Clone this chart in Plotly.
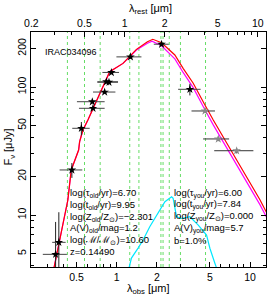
import plotly.graph_objects as go

z = 0.1449

# photometry (observed wavelength in micron, flux in microJy)
obs_lam = [0.348, 0.368, 0.461, 0.543, 0.656, 0.664, 0.812, 0.837, 0.875, 0.912, 1.268, 2.17, 3.54]
obs_flux = [4.93, 6.12, 22.5, 47.6, 76.8, 68.2, 91.4, 110, 109, 130, 172, 216, 96]
lam_lo = [0.279, 0.328, 0.373, 0.464, 0.503, 0.521, 0.664, 0.716, 0.716, 0.781, 0.995, 1.898, 2.89]
lam_hi = [0.423, 0.414, 0.552, 0.627, 0.812, 0.812, 0.978, 1.023, 1.023, 1.041, 1.533, 2.459, 4.26]
flux_err = [3.9, 4.4, 3.0, 5.7, 2.0, 2.0, 2.5, 3.0, 3.0, 3.5, 4.0, 5.0, 10.0]

irac_lam = [4.59, 5.78, 7.94]
irac_flux = [65, 39.3, 31.8]
irac_lo = [3.64, 4.45, 5.39]
irac_hi = [5.46, 6.97, 10.6]
irac_err = [2.0, 1.5, 1.5]

# total model (red)
tot_lam = [0.336, 0.430, 0.456, 0.518, 0.527, 0.558, 0.608, 0.657, 0.745, 0.886, 1.115, 1.406, 1.70, 1.865,
           2.17, 2.73, 3.15, 3.75, 4.59, 5.30, 11.9, 13.35]
tot_flux = [3.72, 13.1, 22.5, 32.2, 37.4, 46.1, 55.2, 66.1, 86.6, 131.7, 153, 197, 226, 236,
            222, 178, 140, 107, 72.3, 55.2, 13.1, 10.4]

# old population (magenta)
old_lam = [0.336, 0.430, 0.456, 0.518, 0.527, 0.558, 0.608, 0.657, 0.745, 0.886, 1.115, 1.406, 1.70, 1.84,
           2.17, 2.73, 3.15, 3.75, 4.59, 5.30, 11.9, 13.35]
old_flux = [3.72, 13.1, 22.5, 32.2, 37.4, 46.1, 55.2, 66.1, 86.6, 131.7, 153, 194.5, 220, 228,
            210, 166, 130, 99, 66.5, 50.6, 12.0, 9.55]

# young population (cyan)
young_lam = [1.20, 1.290, 1.446, 1.577, 1.77, 2.044, 2.30, 2.58, 2.65, 2.81, 3.07, 3.54, 4.09, 4.72, 5.0, 5.45, 5.75]
young_flux = [3.4, 4.61, 5.52, 6.38, 8.1, 10.3, 12.7, 13.9, 13.5, 9.7, 9.4, 9.7, 8.35, 6.98, 5.5, 4.2, 3.59]

# emission line rest wavelengths (micron)
line_rest = [0.3727, 0.5007, 0.6563, 1.094, 1.282, 1.875, 1.945, 2.166, 2.626, 4.051]

labels_old = ["log(τ<sub>old</sub>/yr)=6.70", "log(t<sub>old</sub>/yr)=9.95",
              "log(Z<sub>old</sub>/Z<sub>⊙</sub>)=−2.301", "A(V)<sub>old</sub>/mag=1.2",
              "log(ℳ/ℳ<sub>⊙</sub>)=10.60", "z=0.14490"]
labels_young = ["log(τ<sub>you</sub>/yr)=6.00", "log(t<sub>you</sub>/yr)=7.84",
                "log(Z<sub>you</sub>/Z<sub>⊙</sub>)=0.000", "A(V)<sub>you</sub>/mag=5.7", "b=1.0%"]

x_ticks = [0.5, 1, 2, 5, 10]
x_minor = [0.3, 0.4, 0.6, 0.7, 0.8, 0.9, 3, 4, 6, 7, 8, 9]
top_ticks = [0.2, 0.5, 1, 2, 5, 10]
top_minor = [0.3, 0.4, 0.6, 0.7, 0.8, 0.9, 3, 4, 6, 7, 8, 9]
y_ticks = [5, 10, 20, 50, 100, 200]
y_minor = [4, 6, 7, 8, 9, 30, 40, 60, 70, 80, 90]

FONT = "Liberation Sans, Arial, sans-serif"

fig = go.Figure()

fig.add_trace(go.Scatter(x=old_lam, y=old_flux, mode="lines", line=dict(color="#ff00ff", width=1.2),
                         showlegend=False))
fig.add_trace(go.Scatter(x=tot_lam, y=tot_flux, mode="lines", line=dict(color="#ff0000", width=1.2),
                         showlegend=False))
fig.add_trace(go.Scatter(x=young_lam, y=young_flux, mode="lines", line=dict(color="#00e8ff", width=1.2),
                         showlegend=False))

fig.add_trace(go.Scatter(
    x=obs_lam, y=obs_flux, mode="markers",
    marker=dict(symbol="star", size=6.5, color="black"),
    error_x=dict(type="data", symmetric=False,
                 array=[h - l for h, l in zip(lam_hi, obs_lam)],
                 arrayminus=[l - lo for l, lo in zip(obs_lam, lam_lo)],
                 color="#444444", thickness=1, width=0),
    error_y=dict(type="data", array=flux_err, color="#222222", thickness=1, width=0),
    showlegend=False))

fig.add_trace(go.Scatter(
    x=irac_lam, y=irac_flux, mode="markers",
    marker=dict(symbol="star", size=6.5, color="#888888"),
    error_x=dict(type="data", symmetric=False,
                 array=[h - l for h, l in zip(irac_hi, irac_lam)],
                 arrayminus=[l - lo for l, lo in zip(irac_lam, irac_lo)],
                 color="#333333", thickness=1, width=0),
    error_y=dict(type="data", array=irac_err, color="#333333", thickness=1, width=0),
    showlegend=False))

# invisible trace to activate top axis
fig.add_trace(go.Scatter(x=[1], y=[10], xaxis="x2", mode="markers", marker=dict(opacity=0),
                         showlegend=False, hoverinfo="skip"))

for lr in line_rest:
    fig.add_shape(type="line", xref="x", yref="paper", x0=lr * (1 + z), x1=lr * (1 + z), y0=0, y1=1,
                  line=dict(color="#66dd66", width=1, dash="dot"), layer="below")

fig.add_annotation(text="IRAC034096", xref="paper", yref="paper", x=0.05, y=0.914,
                   xanchor="left", yanchor="middle", showarrow=False, font=dict(size=9, color="black", family=FONT))

for i, t in enumerate(labels_old):
    fig.add_annotation(text=t, xref="paper", yref="paper", x=0.157, y=0.314 - i * 0.0498,
                       xanchor="left", yanchor="middle", showarrow=False,
                       font=dict(size=9.5, color="black", family=FONT))
for i, t in enumerate(labels_young):
    fig.add_annotation(text=t, xref="paper", yref="paper", x=0.599, y=0.314 - i * 0.0498,
                       xanchor="left", yanchor="middle", showarrow=False,
                       font=dict(size=9.5, color="black", family=FONT))

fig.add_annotation(text="λ<sub>obs</sub> [μm]", xref="paper", yref="paper", x=0.498, y=-0.093,
                   xanchor="center", yanchor="middle", showarrow=False, font=dict(size=11, color="black", family=FONT))
fig.add_annotation(text="λ<sub>rest</sub> [μm]", xref="paper", yref="paper", x=0.51, y=1.098,
                   xanchor="center", yanchor="middle", showarrow=False, font=dict(size=11, color="black", family=FONT))
fig.add_annotation(text="F<sub>ν</sub> [μJy]", xref="paper", yref="paper", x=-0.13, y=0.51,
                   xanchor="left", yanchor="middle", textangle=-90, showarrow=False,
                   font=dict(size=11, color="black", family=FONT))

axis_common = dict(showgrid=False, zeroline=False, showline=True, linecolor="black", linewidth=1,
                   ticks="inside", ticklen=5, tickcolor="black", tickwidth=1, automargin=False,
                   tickfont=dict(size=10.5, color="black", family=FONT))

xr0, xr1 = -0.643, 1.120
fig.update_layout(
    width=267, height=295,
    margin=dict(l=31, r=1, t=32, b=28),
    paper_bgcolor="white", plot_bgcolor="white",
    xaxis=dict(type="log", range=[xr0, xr1], tickvals=x_ticks, ticktext=[str(v) for v in x_ticks],
               minor=dict(tickvals=x_minor, ticks="inside", ticklen=3, tickcolor="black", showgrid=False),
               mirror=False, **axis_common),
    xaxis2=dict(type="log", range=[xr0 - 0.0588, xr1 - 0.0588], overlaying="x", side="top",
                tickvals=top_ticks, ticktext=[str(v) for v in top_ticks],
                minor=dict(tickvals=top_minor, ticks="inside", ticklen=3, tickcolor="black", showgrid=False),
                **axis_common),
    yaxis=dict(type="log", range=[0.594, 2.430], tickvals=y_ticks, ticktext=[str(v) for v in y_ticks],
               tickangle=-90,
               minor=dict(tickvals=y_minor, ticks="inside", ticklen=3, tickcolor="black", showgrid=False),
               mirror="ticks", **axis_common),
)

fig.write_html("out.html", config={"displayModeBar": False},
               post_script="document.body.style.margin='0';document.body.style.padding='0';"
                           "document.body.style.overflow='hidden';")
